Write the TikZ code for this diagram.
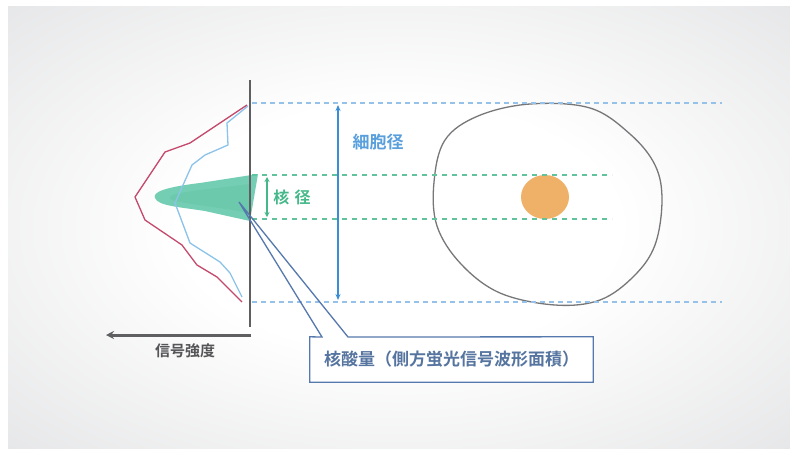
\documentclass[tikz,border=0pt]{standalone}
\usepackage{fontspec}
\newfontfamily\jp{Noto Sans CJK JP}[BoldFont={Noto Sans CJK JP Bold}]
\usetikzlibrary{arrows.meta}

\definecolor{wallgray}{HTML}{5F5F62}
\definecolor{sigred}{HTML}{C4496C}
\definecolor{sigblue}{HTML}{8CC3EA}
\definecolor{celldash}{HTML}{96C2EA}
\definecolor{celldiam}{HTML}{3B8ED6}
\definecolor{nucgreen}{HTML}{45B889}
\definecolor{nucfill}{HTML}{5CC6A6}
\definecolor{nucorange}{HTML}{EFB067}
\definecolor{callblue}{HTML}{5578AD}
\definecolor{calltext}{HTML}{55749F}
\definecolor{bgmid}{HTML}{D8D9DB}
\definecolor{bgedge}{HTML}{C6C7CA}

\pgfdeclareradialshading{bgglow}{\pgfpoint{0bp}{0bp}}{%
  color(0bp)=(white); color(14bp)=(white); color(48bp)=(bgmid); color(72bp)=(bgedge)}

\tikzset{
    > = {Stealth[length=6pt,width=5pt]},
    every node/.style = {font=\jp\bfseries},
    wall/.style = {wallgray, line width=2.4pt},
    celldashed/.style = {celldash, line width=2.6pt, dash pattern=on 5pt off 4pt},
    nucdashed/.style = {nucgreen!85, line width=2.4pt, dash pattern=on 5pt off 5pt},
    dimarrow/.style = {<->, line width=2.2pt},
    callout/.style = {callblue, line width=1.3pt},
    profile/.style = {line width=1.3pt, line join=round}
}

\begin{document}
\begin{tikzpicture}[x=1pt, y=-1pt]
    \useasboundingbox (0,0) rectangle (790,448);
    \fill[white] (0,0) rectangle (790,448);
    \shade[shading=bgglow] (8,6) rectangle (790,448);

    % cell and nucleus
    \draw[wallgray!85, line width=1.3pt] plot[smooth cycle, tension=0.6] coordinates {
        (530,104) (590,108) (630,134) (655,165) (662,200) (655,245) (634,276)
        (600,300) (555,305) (500,293) (461,264) (437,226) (434,182) (445,140) (478,116)};
    \fill[nucorange] (545,197) ellipse [x radius=24, y radius=22];

    % guide lines
    \coordinate (ctop) at (252,103);
    \coordinate (cbot) at (252,302);
    \coordinate (ntop) at (252,175);
    \coordinate (nbot) at (252,219);
    \draw[celldashed] (ctop) -- +(470,0);
    \draw[celldashed] (cbot) -- +(470,0);
    \draw[nucdashed] (ntop) -- +(360,0);
    \draw[nucdashed] (nbot) -- +(360,0);

    % side scatter signal of the nucleus
    \fill[nucfill, opacity=0.85] (258,174) -- (200,183)
        .. controls (166,187) and (152,192) .. (155,198)
        .. controls (158,206) and (180,207) .. (205,211) -- (250,221) -- cycle;
    \fill[nucgreen!90!black, opacity=0.12] (250,184) -- (200,190)
        .. controls (175,193) and (165,196) .. (172,200)
        .. controls (185,204) and (210,206) .. (250,213) -- cycle;

    % signal profiles
    \draw[profile, sigblue] plot coordinates {(248,106) (227,123) (228,145) (205,155)
        (192,165) (175,203) (190,243) (220,262) (230,273) (242,297)};
    \draw[profile, sigred] plot coordinates {(247,105) (190,143) (165,152) (135,197)
        (145,220) (182,245) (197,265) (217,277) (242,302)};

    % detector axis
    \coordinate (wtop) at (250,80);
    \coordinate (wbot) at (250,327);
    \draw[wall] (wtop) -- (wbot);
    \coordinate (ax0) at (251,335);
    \coordinate (ax1) at (106,335);
    \draw[wall, line width=3pt, -{Stealth[length=8pt,width=8pt]}] (ax0) -- (ax1);
    \node[text=wallgray!90!black, font=\jp\bfseries\fontsize{15}{15}\selectfont] (sig) at (185,351) {信号強度};

    % diameters
    \draw[dimarrow, celldiam] (338,105) -- (338,300);
    \node[text=celldiam!85, font=\jp\bfseries\fontsize{17}{17}\selectfont] (celld) at (378,142) {細胞径};
    \draw[dimarrow, nucgreen, line width=1.8pt, >={Stealth[length=5pt,width=5pt]}] (267,177) -- (267,217);
    \node[text=nucgreen, font=\jp\bfseries\fontsize{16}{16}\selectfont] (nucd) at (292,197) {核\,\,径};

    % callout for the DNA content
    \node[fill=white, text=calltext, minimum width=283pt, minimum height=45pt, inner sep=0pt,
          font=\jp\bfseries\fontsize{17}{17}\selectfont] (dna) at (451.5,359.5)
        {核酸量（側方蛍光信号波形面積）};
    \coordinate (tip) at (239,202);
    \coordinate (wl) at (322,337);
    \coordinate (wr) at (348,337);
    \draw[callout, line join=miter] (wl) -- (tip) -- (wr) -- (dna.north east) -- (dna.south east)
        -- (dna.south west) -- (dna.north west) -- cycle;
\end{tikzpicture}
\end{document}
